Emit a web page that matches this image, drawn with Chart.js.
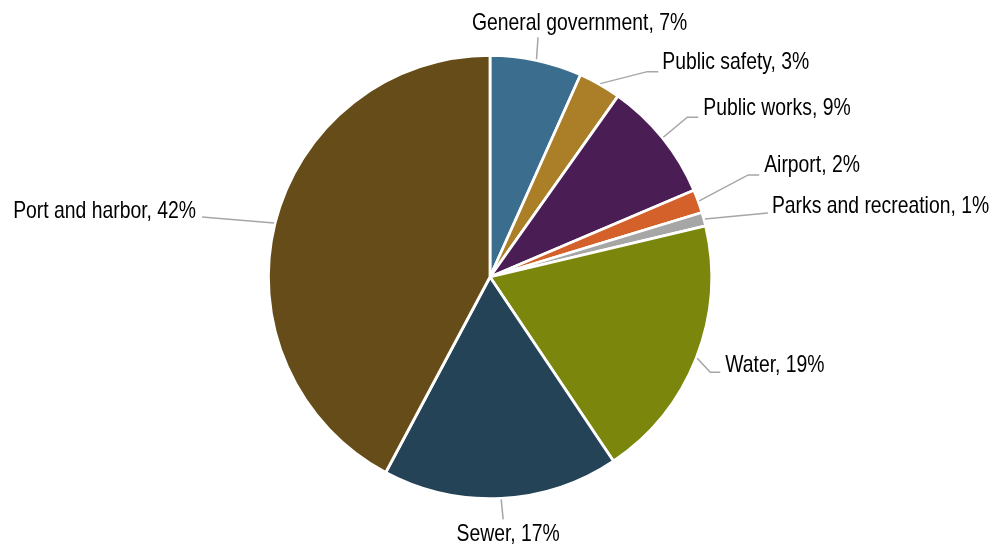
<!DOCTYPE html>
<html lang="en">
<head>
  <meta charset="UTF-8">
  <title>Share by function</title>
  <script src="https://cdn.jsdelivr.net/npm/chart.js"></script>
  <style>
    body { margin:0; background:#fff; }
    #wrap { width:994px; height:546px; }
  </style>
</head>
<body>
  <div id="wrap"><canvas id="pieChart" width="994" height="546"></canvas></div>
<script>
const categories = ["General government","Public safety","Public works","Airport","Parks and recreation","Water","Sewer","Port and harbor"];
const shares = [6.7, 3.1, 8.8, 1.7, 1.0, 19.3, 17.2, 42.2];
const sliceColors = ['#3a6d8e','#aa7f28','#4b1d55','#d4602a','#a6a6a6','#7b860c','#244357','#664c18'];

// leader line layout per slice: elbow offset from slice edge, tail, text offset, align
const labelLayout = [
  {dx:1.5, dy:-22, tail:0,  tx:-66, ty:-14, align:'left'},
  {dx:47,  dy:-12, tail:11, tx:4,   ty:-9,  align:'left'},
  {dx:24,  dy:-20, tail:11, tx:5,   ty:-9,  align:'left'},
  {dx:49,  dy:-26, tail:11, tx:5,   ty:-9,  align:'left'},
  {dx:63,  dy:-6,  tail:0,  tx:4,   ty:-6,  align:'left'},
  {dx:13,  dy:14,  tail:10, tx:5,   ty:-7,  align:'left'},
  {dx:2,   dy:20,  tail:0,  tx:5,   ty:15,  align:'center'},
  {dx:-72, dy:-6,  tail:0,  tx:-6,  ty:-6,  align:'right'}
];

const total = shares.reduce((a,b)=>a+b,0);

// narrow font if installed, else squeeze Liberation Sans
function pickFont(ctx){
  ctx.font = '23.6px "Liberation Sans Narrow", monospace';
  const a = ctx.measureText('General government').width;
  ctx.font = '23.6px "Liberation Sans Narrow", serif';
  const b = ctx.measureText('General government').width;
  return a === b ? {font:'23.6px "Liberation Sans Narrow"', sx:1} : {font:'23.6px "Liberation Sans", Arial', sx:0.82};
}

const leaderLabels = {
  id:'leaderLabels',
  afterDatasetsDraw(chart){
    const ctx = chart.ctx;
    const arcs = chart.getDatasetMeta(0).data;
    ctx.save();
    const f = pickFont(ctx);
    arcs.forEach((arc,i)=>{
      const L = labelLayout[i];
      const mid = (arc.startAngle + arc.endAngle)/2;
      const r = arc.outerRadius + 1;
      const ex = arc.x + Math.cos(mid)*r, ey = arc.y + Math.sin(mid)*r;
      const bx = ex + L.dx, by = ey + L.dy;
      const cx = bx + L.tail;
      ctx.strokeStyle = '#a6a6a6';
      ctx.lineWidth = 1.5;
      ctx.beginPath();
      ctx.moveTo(ex,ey); ctx.lineTo(bx,by); ctx.lineTo(cx,by);
      ctx.stroke();
      const pct = Math.round(shares[i]/total*100);
      ctx.save();
      ctx.font = f.font;
      ctx.textBaseline = 'middle';
      ctx.textAlign = L.align;
      ctx.fillStyle = '#000';
      ctx.translate(cx + L.tx, by + L.ty);
      ctx.scale(f.sx, 1);
      ctx.fillText(categories[i] + ', ' + pct + '%', 0, 0);
      ctx.restore();
    });
    ctx.restore();
  }
};

new Chart(document.getElementById('pieChart'), {
  type:'pie',
  data:{
    labels:categories,
    datasets:[{
      data:shares,
      backgroundColor:sliceColors,
      borderColor:'#fff',
      borderWidth:2.8,
      hoverBorderWidth:2.8,
      hoverOffset:0
    }]
  },
  options:{
    responsive:false,
    animation:false,
    layout:{ padding:{left:267, right:281, top:54, bottom:46} },
    plugins:{ legend:{display:false}, tooltip:{enabled:false} }
  },
  plugins:[leaderLabels]
});
</script>
</body>
</html>
